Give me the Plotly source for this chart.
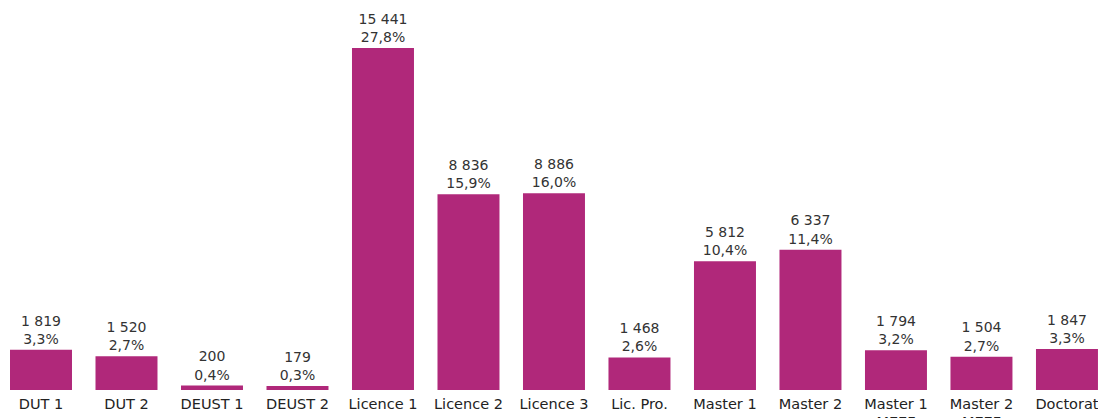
import plotly.graph_objects as go

categories = ["DUT 1", "DUT 2", "DEUST 1", "DEUST 2", "Licence 1", "Licence 2", "Licence 3",
              "Lic. Pro.", "Master 1", "Master 2", "Master 1<br>MEEF", "Master 2<br>MEEF", "Doctorat"]
values = [1819, 1520, 200, 179, 15441, 8836, 8886, 1468, 5812, 6337, 1794, 1504, 1847]
percents = ["3,3%", "2,7%", "0,4%", "0,3%", "27,8%", "15,9%", "16,0%", "2,6%", "10,4%", "11,4%",
            "3,2%", "2,7%", "3,3%"]

def fmt(v):
    return f"{v:,}".replace(",", " ")

labels = [f"{fmt(v)}<br>{p}" for v, p in zip(values, percents)]

fig = go.Figure(go.Bar(
    x=list(range(len(categories))),
    y=values,
    text=labels,
    textposition="outside",
    textfont=dict(family="Verdana, DejaVu Sans, sans-serif", size=14, color="#333333"),
    marker=dict(color="#B0287A", line=dict(width=0)),
    cliponaxis=False,
    hoverinfo="skip",
))

fig.update_layout(
    width=1098, height=418,
    margin=dict(l=0, r=0, t=0, b=28),
    paper_bgcolor="white", plot_bgcolor="white",
    bargap=0.275,
    showlegend=False,
    font=dict(family="Verdana, DejaVu Sans, sans-serif", color="#333333"),
)
fig.update_xaxes(
    range=[-0.4795, 12.363],
    tickmode="array",
    tickvals=list(range(len(categories))),
    ticktext=categories,
    tickfont=dict(size=14.5, color="#222222"),
    showgrid=False, zeroline=False, showline=False, ticks="",
    ticklabelstandoff=3,
    ticklabeloverflow="allow",
    automargin=False,
)
fig.update_yaxes(
    range=[0, 17607],
    visible=False,
    showgrid=False, zeroline=False,
    automargin=False,
)

fig.write_html("out.html", config={"displayModeBar": False},
               post_script="document.body.style.margin='0';")
